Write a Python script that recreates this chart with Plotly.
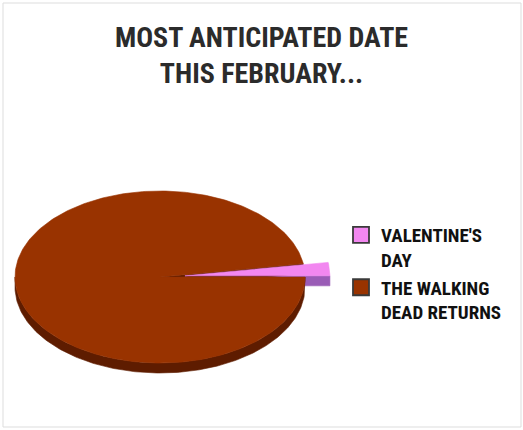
import numpy as np
import plotly.graph_objects as go

# ---- data ----
categories = ["VALENTINE'S<br>DAY", "THE WALKING<br>DEAD RETURNS"]
values = [2.5, 97.5]
top_colors = ["#F287F0", "#993300"]
side_colors = ["#9A5CB6", "#5E1C00"]
title_text = "MOST ANTICIPATED DATE<br>THIS FEBRUARY..."

# ---- pie geometry (style) ----
W, H = 523, 430
cx, cy = 160, 277      # centre of top face
a, b = 145, 86         # ellipse semi-axes
depth = 10             # thickness
explode = [25, 0]      # explode distance per slice
FONT = "Roboto Condensed, DejaVu Sans Condensed, sans-serif"

total = float(sum(values))
starts = np.cumsum([0] + values[:-1]) / total * 360.0
ends = np.cumsum(values) / total * 360.0


def pt(theta_deg, r=1.0, dz=0.0, off=(0.0, 0.0)):
    t = np.radians(theta_deg)
    return cx + off[0] + a * r * np.cos(t), cy + off[1] - b * r * np.sin(t) + dz


def offset(i):
    mid = np.radians((starts[i] + ends[i]) / 2)
    return explode[i] * np.cos(mid), -explode[i] * (b / a) * np.sin(mid)


fig = go.Figure()


def poly(xs, ys, color):
    xs = list(xs) + [xs[0]]
    ys = list(ys) + [ys[0]]
    fig.add_trace(go.Scatter(x=xs, y=ys, mode="lines", fill="toself",
                             fillcolor=color, line=dict(color=color, width=0.6),
                             hoverinfo="skip", showlegend=False))


def radial_face(i, theta):
    off = offset(i)
    c0 = pt(theta, 0, 0, off)
    e0 = pt(theta, 1, 0, off)
    e1 = pt(theta, 1, depth, off)
    c1 = pt(theta, 0, depth, off)
    poly([c0[0], e0[0], e1[0], c1[0]], [c0[1], e0[1], e1[1], c1[1]], side_colors[i])


def curved_side(i):
    # visible front part of the rim: angles between 180 and 360
    lo, hi = max(starts[i], 180.0), min(ends[i], 360.0)
    if hi <= lo:
        return
    off = offset(i)
    th = np.linspace(lo, hi, 200)
    xt, yt = pt(th, 1, 0, off)
    xb, yb = pt(th[::-1], 1, depth, off)
    poly(np.concatenate([xt, xb]), np.concatenate([yt, yb]), side_colors[i])


def top_face(i):
    off = offset(i)
    th = np.linspace(starts[i], ends[i], 300)
    xs, ys = pt(th, 1, 0, off)
    c = pt(0, 0, 0, off)
    poly(np.concatenate([[c[0]], xs]), np.concatenate([[c[1]], ys]), top_colors[i])


# back-to-front drawing
radial_face(0, starts[0])          # front-facing cut face of the small slice
radial_face(1, starts[1])          # cut face of the big slice (in the gap)
curved_side(1)
top_face(1)
curved_side(0)
top_face(0)

# legend entries
for name, col in zip(categories, top_colors):
    fig.add_trace(go.Scatter(x=[None], y=[None], mode="markers", name=name,
                             marker=dict(symbol="square", size=17, color=col,
                                         line=dict(color="#3a3a3a", width=1.8))))

fig.update_layout(
    width=W, height=H,
    margin=dict(l=0, r=0, t=0, b=0),
    paper_bgcolor="white", plot_bgcolor="white",
    xaxis=dict(range=[0, W], visible=False, fixedrange=True),
    yaxis=dict(range=[H, 0], visible=False, fixedrange=True),
    title=dict(text=title_text, x=0.5, xanchor="center", xref="paper",
               yref="container", y=1 - 47 / H, yanchor="middle",
               font=dict(family=FONT, size=28, color="#2b2b2b", weight="bold")),
    legend=dict(x=341 / W, xanchor="left", y=1 - 216 / H, yanchor="top",
                valign="top", traceorder="normal", tracegroupgap=5,
                bgcolor="rgba(0,0,0,0)",
                font=dict(family=FONT, size=19, color="#111111", weight="bold")),
    shapes=[dict(type="rect", xref="x", yref="y", x0=3, y0=3, x1=521, y1=427,
                 line=dict(color="#dddddd", width=1), layer="below")],
    showlegend=True,
)

fig.write_html("out.html", config={"displayModeBar": False},
               post_script="document.body.style.margin='0px';")
